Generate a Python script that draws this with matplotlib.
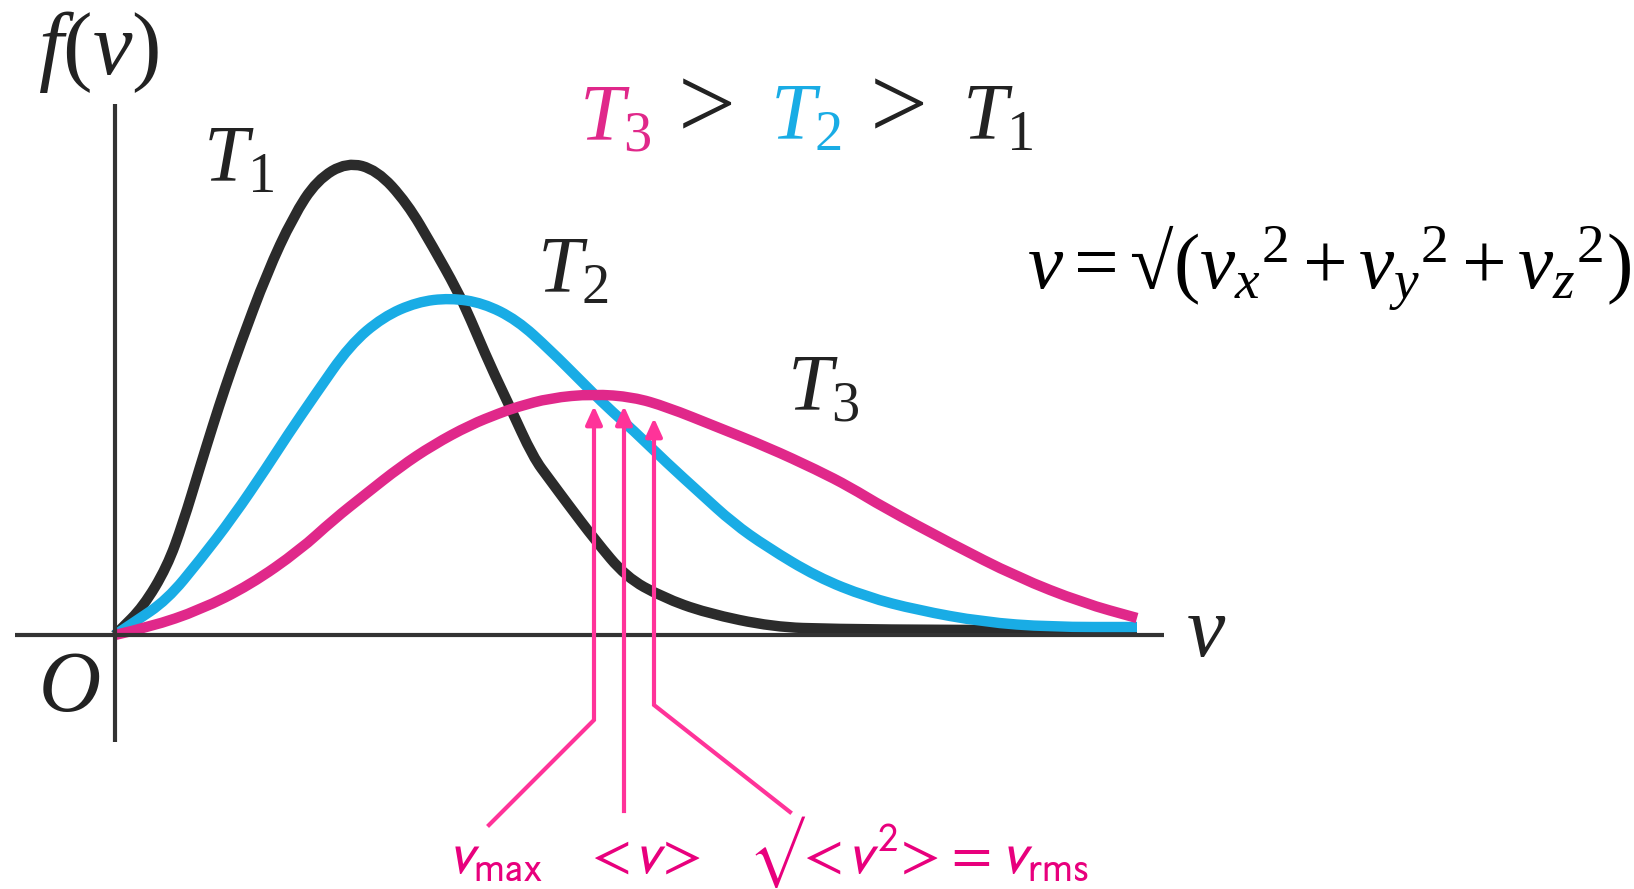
import matplotlib
matplotlib.use('Agg')
import matplotlib.pyplot as plt
from matplotlib.path import Path
from matplotlib.patches import PathPatch

plt.rcParams['mathtext.fontset'] = 'custom'
plt.rcParams['mathtext.rm'] = 'Liberation Serif'
plt.rcParams['mathtext.it'] = 'Liberation Serif:italic'
plt.rcParams['mathtext.bf'] = 'Liberation Serif:bold'
plt.rcParams['font.family'] = ['Liberation Serif', 'DejaVu Serif']

# speed distribution curves (arbitrary units)
v_t1 = [0, .05, .28, .52, .68, .85, .98, 1.10, 1.25, 1.52, 1.78, 2.02, 2.32, 2.62, 2.92, 3.18, 3.42, 3.55,
        3.75, 3.95, 4.18, 4.35, 4.52, 4.80, 5.11, 5.47, 5.91, 6.58, 7.18, 8.35, 10.22]
f_t1 = [0, .05, .28, .68, 1.12, 1.68, 2.10, 2.47, 2.90, 3.62, 4.18, 4.55, 4.73, 4.65, 4.32, 3.88, 3.45, 3.17,
        2.70, 2.28, 1.78, 1.55, 1.32, 0.95, 0.58, 0.38, 0.22, 0.08, 0.06, 0.05, 0.05]

v_t2 = [0, .18, .52, .85, 1.18, 1.52, 1.72, 2.00, 2.35, 2.68, 3.02, 3.35, 3.68, 4.02, 4.35, 4.68, 4.92, 5.18,
        5.52, 5.85, 6.18, 6.52, 7.02, 7.52, 8.02, 8.68, 9.35, 10.22]
f_t2 = [0, .12, .35, .75, 1.18, 1.68, 1.99, 2.40, 2.90, 3.18, 3.33, 3.37, 3.32, 3.15, 2.85, 2.52, 2.28, 2.05,
        1.72, 1.42, 1.12, 0.88, 0.58, 0.38, 0.25, 0.13, 0.08, 0.08]

v_t3 = [0, .35, .85, 1.35, 1.85, 2.18, 2.52, 2.85, 3.18, 3.55, 3.85, 4.02, 4.35, 4.78, 5.18, 5.52, 6.02, 6.52,
        7.02, 7.35, 7.68, 8.35, 9.02, 9.68, 10.22]
f_t3 = [0, .08, .25, .50, .85, 1.15, 1.42, 1.68, 1.90, 2.10, 2.22, 2.28, 2.37, 2.41, 2.38, 2.28, 2.08, 1.88,
        1.65, 1.48, 1.28, 0.92, 0.58, 0.32, 0.17]

# characteristic speeds of T3: v_max, <v>, v_rms
mark_v = [4.79, 5.09, 5.39]
mark_tip = [2.29, 2.29, 2.17]
mark_bend = [-0.85, -1.76, -0.70]
mark_end_v = [3.74, 5.09, 6.75]
mark_end_f = [-1.90, -1.76, -1.77]
mark_labels = [r'$v_{\mathrm{max}}$', r'$\!<\!v\!>\!$', r'$√\!<\!v^2\!>\!=v_{\mathrm{rms}}$']
mark_label_v = [3.80, 5.30, 8.03]

BLACK = '#2b2b2b'
BLUE = '#19ace5'
PINK = '#e0288a'
ARROW = '#ff3399'
LABEL = '#e8007d'


def smooth(ax, xs, ys, color):
    # quadratic bezier through midpoints, read points act as controls
    verts = [(xs[0], ys[0])]
    codes = [Path.MOVETO]
    for i in range(1, len(xs) - 1):
        verts += [(xs[i], ys[i]), ((xs[i] + xs[i + 1]) / 2, (ys[i] + ys[i + 1]) / 2)]
        codes += [Path.CURVE3, Path.CURVE3]
    verts.append((xs[-1], ys[-1]))
    codes.append(Path.LINETO)
    p = PathPatch(Path(verts, codes), fill=False, edgecolor=color, lw=7.5, capstyle='butt', joinstyle='round')
    ax.add_patch(p)


fig = plt.figure(figsize=(16.34, 8.89), dpi=100)
ax = fig.add_axes([0, 0, 1, 1])
ax.set_xlim(-1.15, 15.19)
ax.set_ylim(-2.54, 6.35)
ax.axis('off')

# axes
ax.plot([-1.0, 10.49], [0, 0], color='#333333', lw=3, solid_capstyle='butt')
ax.plot([0, 0], [-1.07, 5.31], color='#333333', lw=3, solid_capstyle='butt')

smooth(ax, v_t1, f_t1, BLACK)
smooth(ax, v_t2, f_t2, BLUE)
smooth(ax, v_t3, f_t3, PINK)

for i in range(3):
    x = mark_v[i]
    xs = [mark_end_v[i], x, x]
    ys = [mark_end_f[i], mark_bend[i], mark_tip[i] - 0.1]
    ax.plot(xs, ys, color=ARROW, lw=3, solid_joinstyle='miter')
    ax.annotate('', xy=(x, mark_tip[i]), xytext=(x, mark_tip[i] - 0.15),
                arrowprops=dict(arrowstyle='-|>,head_length=0.55,head_width=0.25', mutation_scale=20,
                                color=ARROW, lw=3, shrinkA=0, shrinkB=0))
    ax.text(mark_label_v[i], -2.38, mark_labels[i], color=LABEL, fontsize=42, ha='center', va='baseline',
            math_fontfamily='stixsans')

ink = '#222222'
ax.text(-0.77, 5.83, r'$f(v)$', fontsize=64, ha='left', va='center', color=ink)
ax.text(-0.46, -0.55, r'$O$', fontsize=62, ha='center', va='center', color=ink)
ax.text(10.91, 0.0, r'$v$', fontsize=62, ha='center', va='center', color=ink)

ax.text(0.88, 4.53, r'$T_1$', fontsize=58, ha='left', va='baseline', color=ink)
ax.text(4.22, 3.42, r'$T_2$', fontsize=58, ha='left', va='baseline', color=ink)
ax.text(6.72, 2.25, r'$T_3$', fontsize=58, ha='left', va='baseline', color=ink)

# T3 > T2 > T1 header
ax.text(4.64, 4.95, r'$T_3$', fontsize=58, ha='left', va='baseline', color=PINK)
ax.text(5.63, 4.97, '>', fontsize=74, ha='left', va='baseline', color=ink)
ax.text(6.55, 4.95, r'$T_2$', fontsize=58, ha='left', va='baseline', color=BLUE)
ax.text(7.55, 4.97, '>', fontsize=74, ha='left', va='baseline', color=ink)
ax.text(8.47, 4.95, r'$T_1$', fontsize=58, ha='left', va='baseline', color=ink)

ax.text(9.12, 3.47, r'$v = √(v_x{}^2 + v_y{}^2 + v_z{}^2)$', fontsize=57, ha='left', va='baseline',
        color='black')

fig.savefig('out.png', dpi=100)
